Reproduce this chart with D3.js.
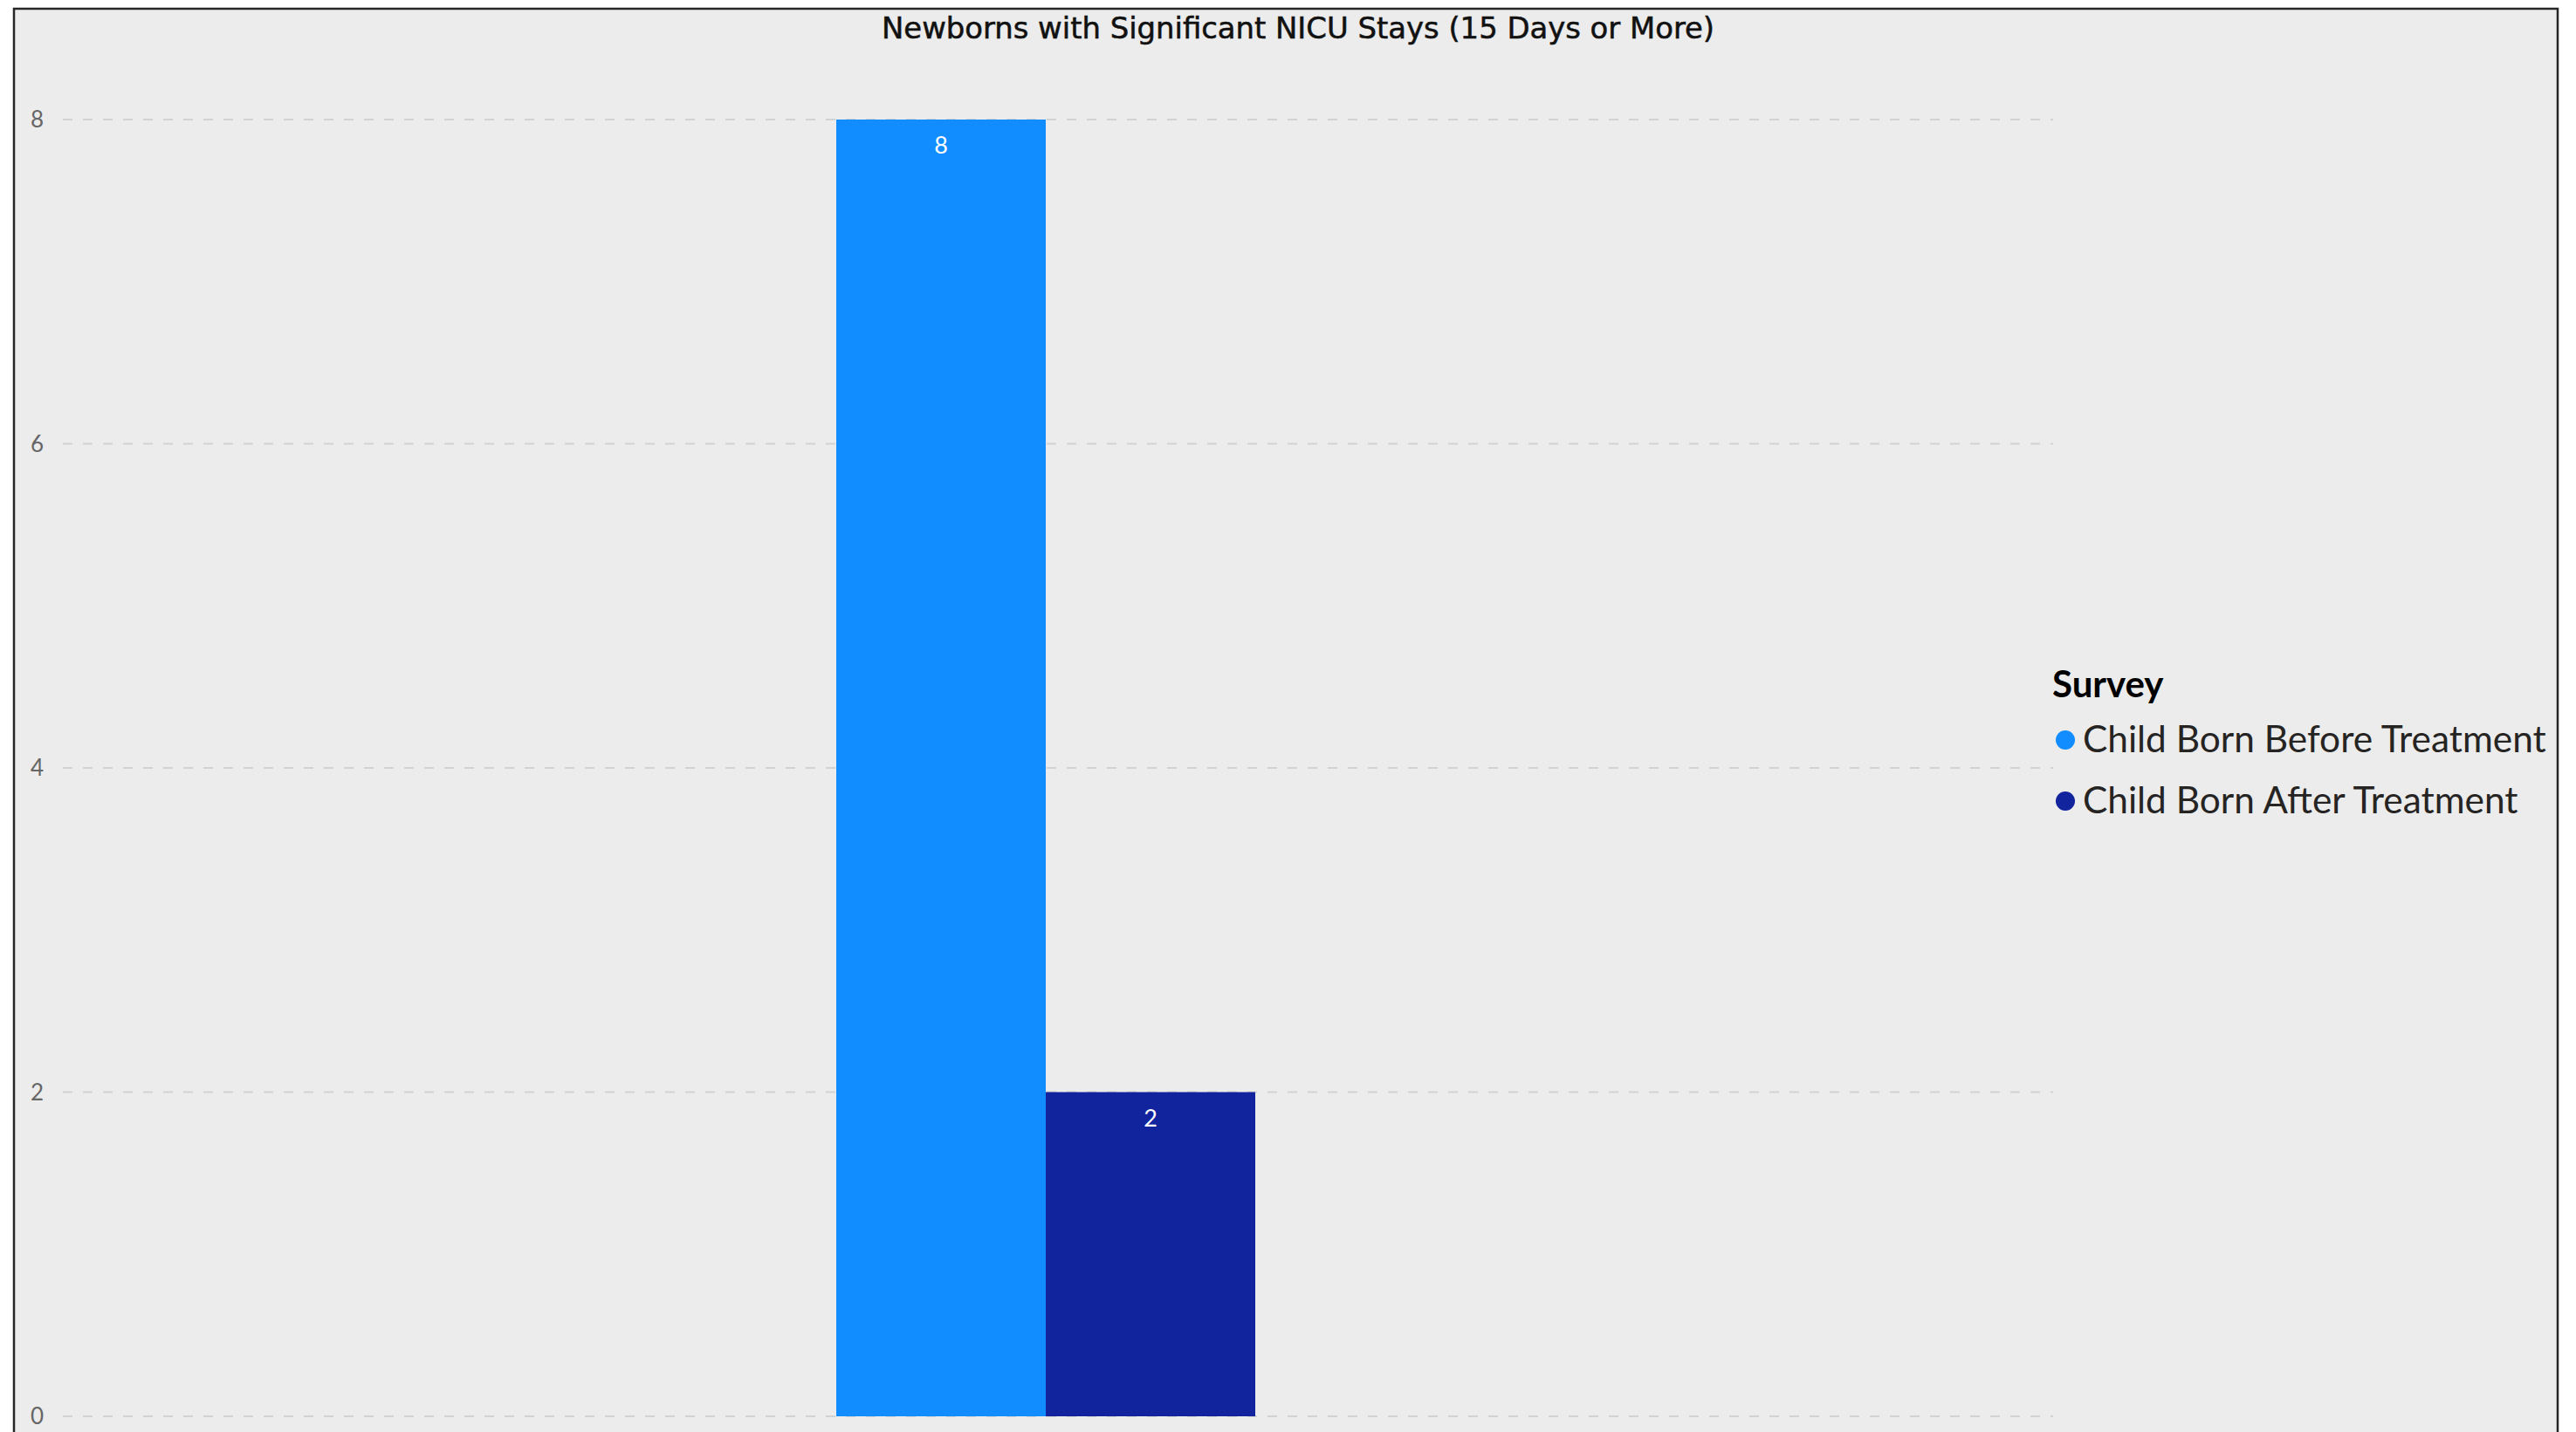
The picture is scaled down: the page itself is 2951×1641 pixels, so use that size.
<!DOCTYPE html>
<html><head><meta charset="utf-8">
<script src="https://cdn.jsdelivr.net/npm/d3@7"></script>
<style>html,body{margin:0;padding:0;background:#fff;overflow:hidden}</style>
</head><body>
<script>
const title = "Newborns with Significant NICU Stays (15 Days or More)";
const categories = [""];
const seriesNames = ["Child Born Before Treatment", "Child Born After Treatment"];
const seriesValues = [[8], [2]];
const seriesColors = ["#118DFF", "#12239E"];
const yTicks = [0, 2, 4, 6, 8];
const legendTitle = "Survey";

const W = 2951, H = 1641;
const svg = d3.select("body").append("svg").attr("width", W).attr("height", H);
svg.append("rect").attr("x", 0).attr("y", 0).attr("width", W).attr("height", H).attr("fill", "#fff");
svg.append("rect").attr("x", 16).attr("y", 10).attr("width", 2914).attr("height", H + 20)
  .attr("fill", "#ececec").attr("stroke", "#262626").attr("stroke-width", 2.5);

const font = "'Segoe UI', Lato, 'Open Sans', sans-serif";

// title
svg.append("text").attr("x", 1487).attr("y", 44).attr("text-anchor", "middle")
  .attr("font-family", "'DejaVu Sans Condensed', 'DejaVu Sans', sans-serif").attr("font-size", 34)
  .attr("fill", "#111").attr("stroke", "#111").attr("stroke-width", 0.5)
  .attr("textLength", 954).attr("lengthAdjust", "spacingAndGlyphs").text(title);

const y = d3.scaleLinear().domain([0, 8]).range([1623, 137]);
const x0 = d3.scaleBand().domain(categories).range([47, 2349]).paddingOuter(1.898).paddingInner(0);
const x1 = d3.scaleBand().domain(seriesNames).range([0, x0.bandwidth()]).padding(0);

// gridlines
const grid = svg.append("g");
grid.selectAll("line").data(yTicks).join("line")
  .attr("x1", 72).attr("x2", 2352).attr("y1", d => y(d)).attr("y2", d => y(d))
  .attr("stroke", "#d2d2d2").attr("stroke-width", 2).attr("stroke-dasharray", "11,12");

// y axis labels
const yAxis = svg.append("g").attr("transform", "translate(50,0)")
  .call(d3.axisLeft(y).tickValues(yTicks).tickSize(0).tickPadding(0).tickFormat(d3.format("d")));
yAxis.select(".domain").remove();
yAxis.selectAll("text").attr("font-family", font).attr("font-size", 26).attr("fill", "#666").attr("dy", "0.34em");

// bars
const groups = svg.append("g").selectAll("g").data(categories).join("g")
  .attr("transform", d => `translate(${x0(d)},0)`);
seriesNames.forEach((s, i) => {
  groups.append("rect")
    .attr("x", x1(s)).attr("width", x1.bandwidth())
    .attr("y", (d, ci) => y(seriesValues[i][ci]))
    .attr("height", (d, ci) => y(0) - y(seriesValues[i][ci]))
    .attr("fill", seriesColors[i]);
  groups.append("text")
    .attr("x", x1(s) + x1.bandwidth() / 2)
    .attr("y", (d, ci) => y(seriesValues[i][ci]) + 30)
    .attr("dy", "0.35em").attr("text-anchor", "middle")
    .attr("font-family", font).attr("font-size", 27).attr("fill", "#fff")
    .text((d, ci) => seriesValues[i][ci]);
});

// legend
const lg = svg.append("g");
lg.append("text").attr("x", 2351).attr("y", 799).attr("font-family", font).attr("font-weight", "bold")
  .attr("font-size", 42).attr("fill", "#000").text(legendTitle);
let fs = 40;
seriesNames.forEach((s, i) => {
  const cy = 848 + i * 70;
  lg.append("circle").attr("cx", 2366).attr("cy", cy).attr("r", 11).attr("fill", seriesColors[i]);
  const t = lg.append("text").attr("x", 2386).attr("y", cy + 14).attr("font-family", font)
    .attr("font-size", fs).attr("fill", "#252423").text(s);
  if (i === 0) {
    fs = 40 * 531 / t.node().getComputedTextLength();
  }
  t.attr("font-size", fs);
});
</script>
</body></html>
